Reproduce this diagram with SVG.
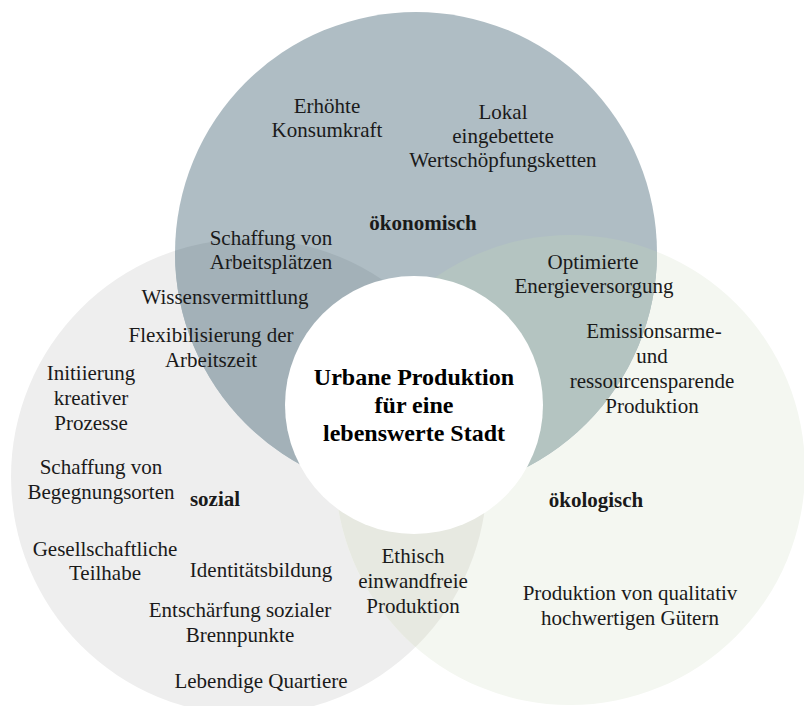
<svg xmlns="http://www.w3.org/2000/svg" width="804" height="706" viewBox="0 0 804 706">
<style>
text{font-family:"Liberation Serif","Times New Roman",serif;font-size:21px;fill:#1a1a1a;text-anchor:middle}
.b{font-weight:bold}
.t{font-weight:bold;font-size:24px;fill:#000}
</style>
<defs>
<clipPath id="cT"><circle cx="416" cy="253" r="241"/></clipPath>
<clipPath id="cL"><circle cx="249" cy="477" r="238"/></clipPath>
<clipPath id="cR"><circle cx="570" cy="470" r="235"/></clipPath>
</defs>
<rect width="804" height="706" fill="#fff"/>
<g id="circles">
<g id="sozial"><circle cx="249" cy="477" r="238" fill="#EEEEEE"/></g>
<g id="oekologisch"><circle cx="570" cy="470" r="235" fill="#F4F7F1"/></g>
<circle cx="570" cy="470" r="235" fill="#E7E9E1" clip-path="url(#cL)"/>
<g id="oekonomisch"><circle cx="416" cy="253" r="241" fill="#AFBDC4"/></g>
<circle cx="249" cy="477" r="238" fill="#A3B1B8" clip-path="url(#cT)"/>
<circle cx="570" cy="470" r="235" fill="#B4C4C1" clip-path="url(#cT)"/>
<g id="center"><circle cx="414" cy="405" r="129" fill="#fff"/>
<text class="t" x="414" y="385">Urbane Produktion</text>
<text class="t" x="414" y="413">für eine</text>
<text class="t" x="414" y="441">lebenswerte Stadt</text>
</g>
</g>
<g id="labels">
<text x="327" y="113">Erhöhte</text>
<text x="327" y="137">Konsumkraft</text>
<text x="503" y="119">Lokal</text>
<text x="503" y="143">eingebettete</text>
<text x="503" y="167">Wertschöpfungsketten</text>
<text class="b" x="423" y="230">ökonomisch</text>
<text x="271" y="245">Schaffung von</text>
<text x="271" y="269">Arbeitsplätzen</text>
<text x="225" y="304">Wissensvermittlung</text>
<text x="211" y="342">Flexibilisierung der</text>
<text x="211" y="367">Arbeitszeit</text>
<text x="91" y="380">Initiierung</text>
<text x="91" y="405">kreativer</text>
<text x="91" y="430">Prozesse</text>
<text x="101" y="474">Schaffung von</text>
<text x="101" y="499">Begegnungsorten</text>
<text class="b" x="215" y="506">sozial</text>
<text x="105" y="556">Gesellschaftliche</text>
<text x="105" y="580">Teilhabe</text>
<text x="261" y="577">Identitätsbildung</text>
<text x="240" y="617">Entschärfung sozialer</text>
<text x="240" y="642">Brennpunkte</text>
<text x="261" y="688">Lebendige Quartiere</text>
<text x="413" y="563">Ethisch</text>
<text x="413" y="588">einwandfreie</text>
<text x="413" y="613">Produktion</text>
<text x="593" y="269">Optimierte</text>
<text x="594" y="293">Energieversorgung</text>
<text x="654" y="338">Emissionsarme-</text>
<text x="652" y="363">und</text>
<text x="652" y="388">ressourcensparende</text>
<text x="652" y="413">Produktion</text>
<text class="b" x="596" y="507">ökologisch</text>
<text x="630" y="600">Produktion von qualitativ</text>
<text x="630" y="625">hochwertigen Gütern</text>
</g>
</svg>
